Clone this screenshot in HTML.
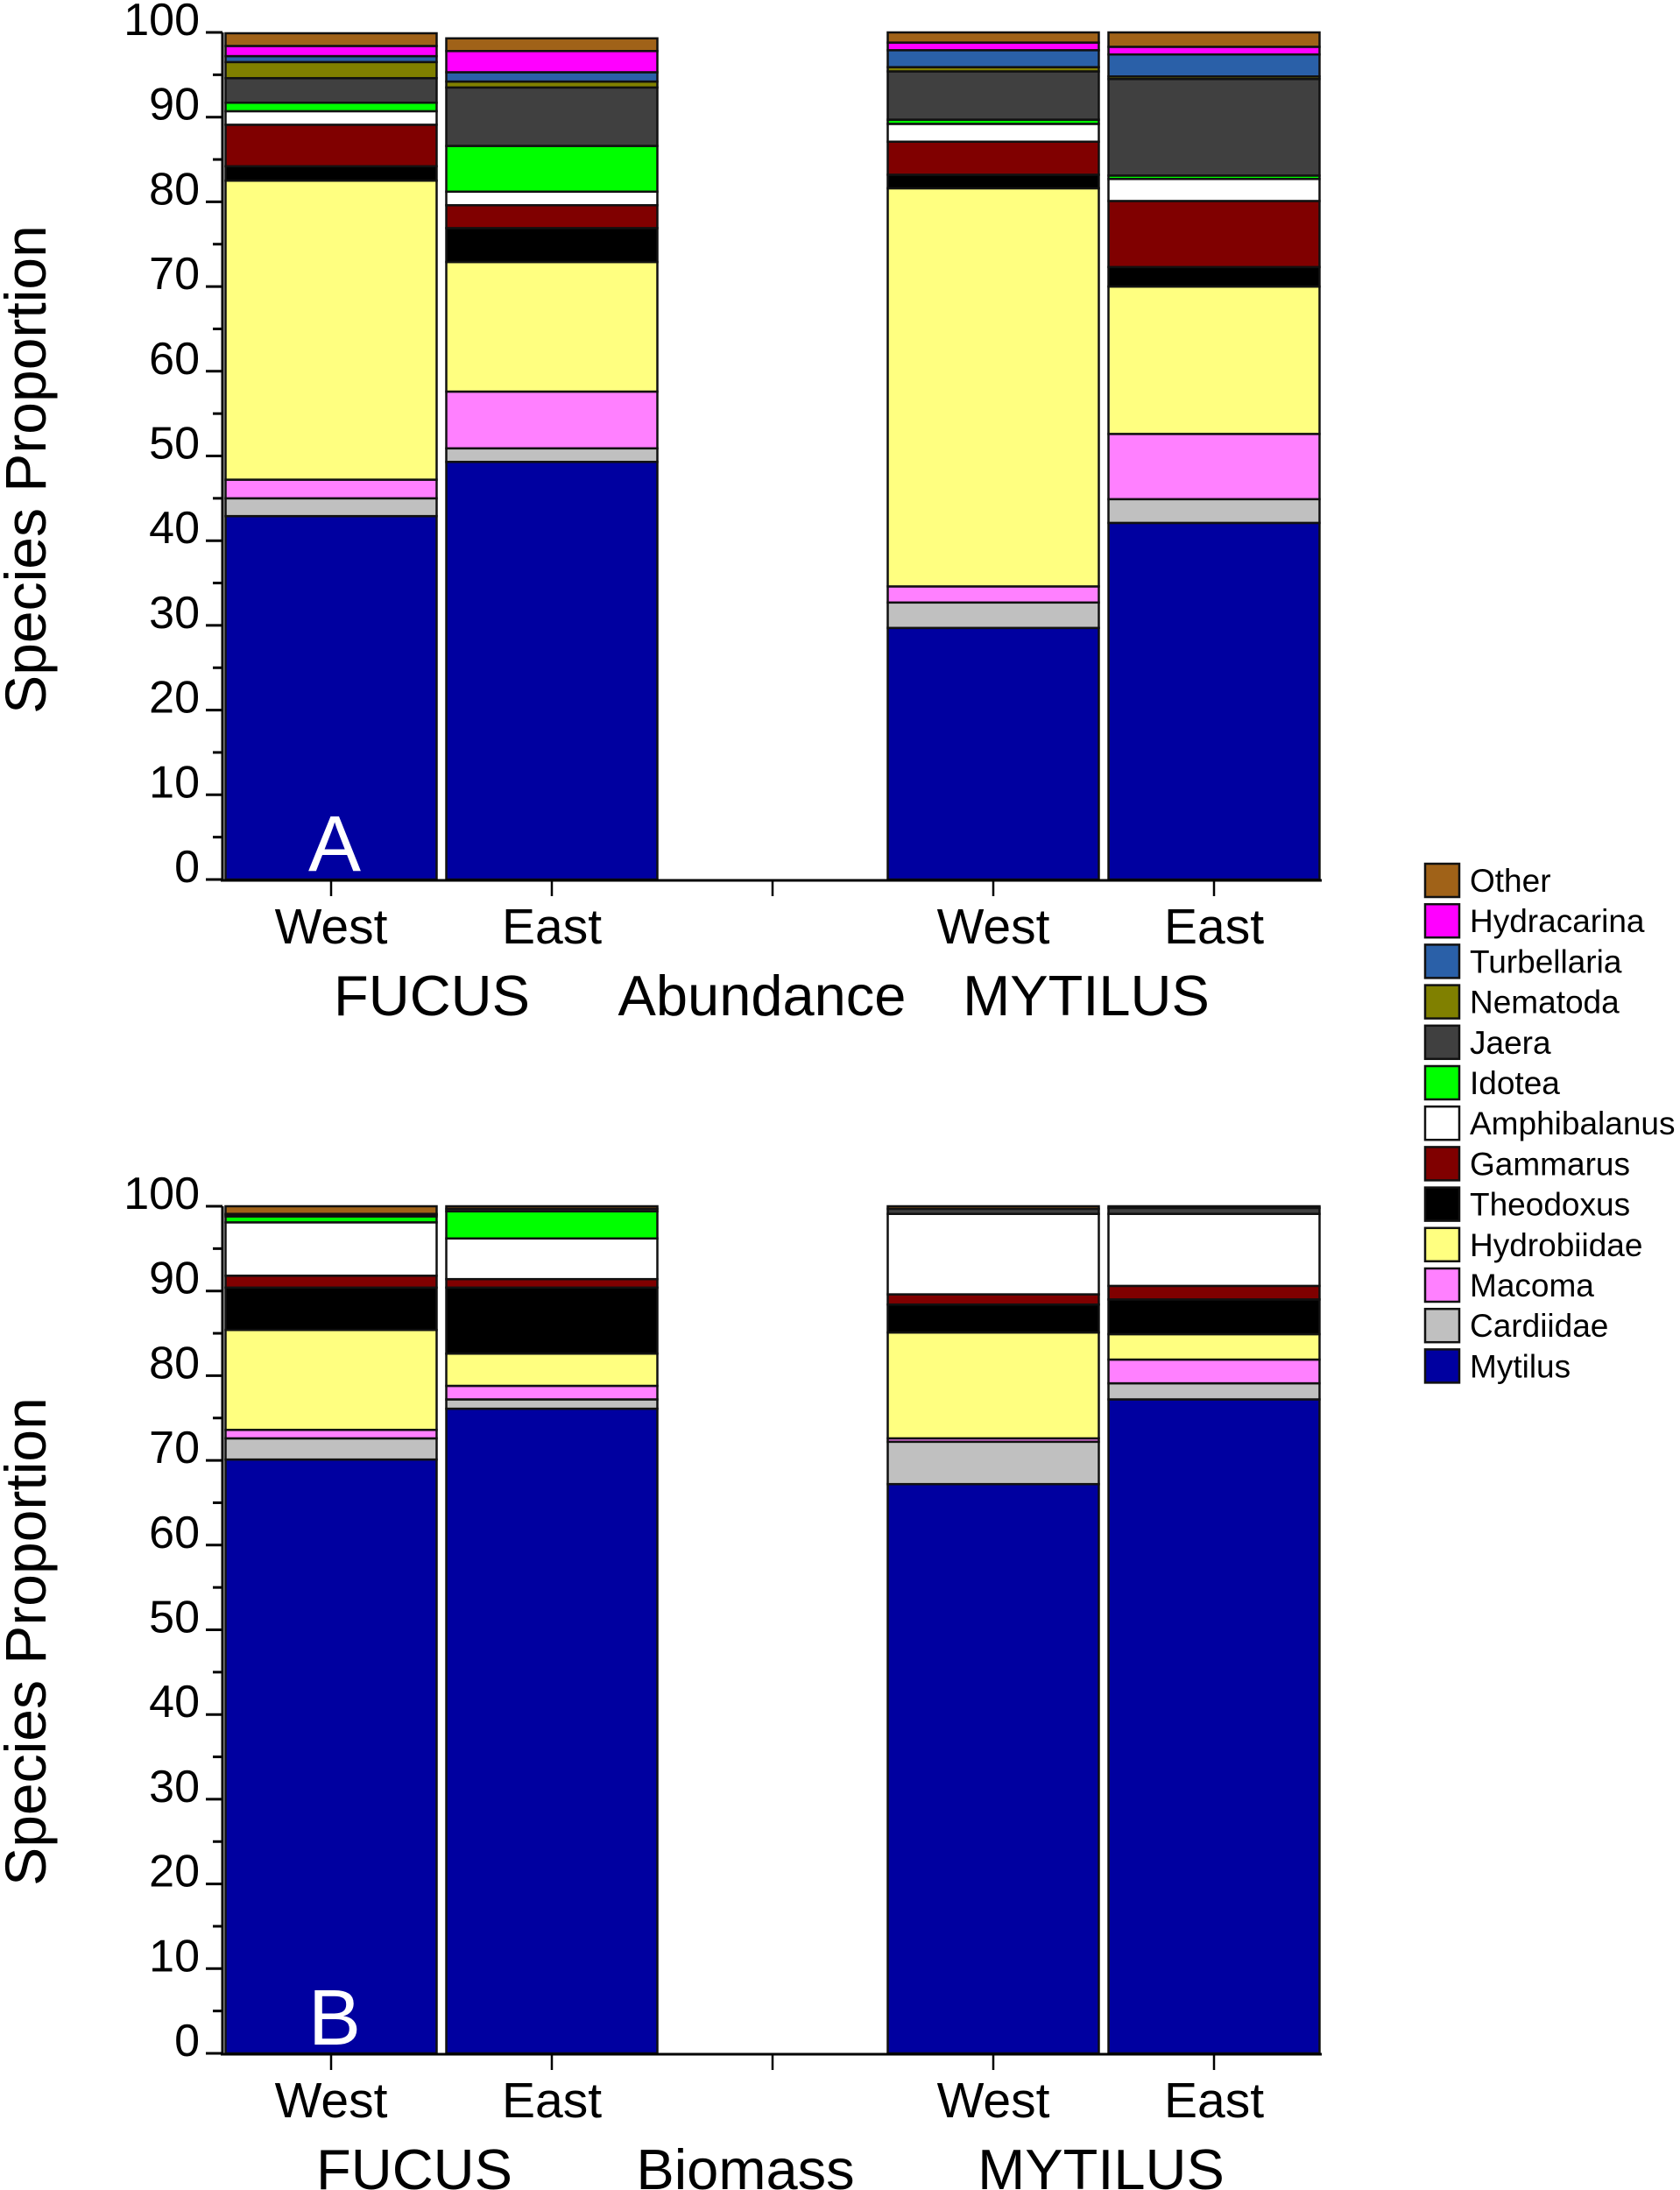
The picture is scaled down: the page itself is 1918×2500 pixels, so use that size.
<!DOCTYPE html>
<html><head><meta charset="utf-8">
<style>
html,body{margin:0;padding:0;background:#fff;}
svg{display:block;font-family:"Liberation Sans",Arial,sans-serif;}
</style></head>
<body>
<svg id="chart" width="1918" height="2500" viewBox="0 0 1918 2500" xmlns="http://www.w3.org/2000/svg"></svg>
<script>
const categories = ["FUCUS West","FUCUS East","MYTILUS West","MYTILUS East"];
const catSlots = [0,1,3,4];
const species = ["Mytilus","Cardiidae","Macoma","Hydrobiidae","Theodoxus","Gammarus","Amphibalanus","Idotea","Jaera","Nematoda","Turbellaria","Hydracarina","Other"];
const colors = ["#0000a0","#c0c0c0","#ff80ff","#ffff80","#000000","#800000","#ffffff","#00ff00","#404040","#808000","#2a60a8","#ff00ff","#a06218"];
const yTicks = [0,10,20,30,40,50,60,70,80,90,100];

// Abundance (panel A), values per category
const abMytilus = [42.9,49.3,29.7,42.1];
const abCardiidae = [2.1,1.6,3.0,2.8];
const abMacoma = [2.2,6.7,1.9,7.7];
const abHydrobiidae = [35.3,15.3,47.0,17.4];
const abTheodoxus = [1.7,4.0,1.6,2.3];
const abGammarus = [4.9,2.7,3.9,7.8];
const abAmphibalanus = [1.6,1.6,2.1,2.6];
const abIdotea = [1.0,5.4,0.5,0.4];
const abJaera = [2.9,6.9,5.7,11.4];
const abNematoda = [1.9,0.7,0.5,0.3];
const abTurbellaria = [0.7,1.1,2.0,2.6];
const abHydracarina = [1.2,2.5,0.9,0.9];
const abOther = [1.5,1.5,1.2,1.7];

// Biomass (panel B)
const bmMytilus = [70.1,76.1,67.2,77.2];
const bmCardiidae = [2.5,1.1,5.0,1.9];
const bmMacoma = [1.0,1.6,0.4,2.8];
const bmHydrobiidae = [11.8,3.8,12.5,3.0];
const bmTheodoxus = [5.0,7.8,3.3,4.1];
const bmGammarus = [1.4,1.0,1.2,1.6];
const bmAmphibalanus = [6.3,4.8,9.5,8.5];
const bmIdotea = [0.7,3.2,0,0];
const bmJaera = [0.2,0.3,0.6,0.7];
const bmNematoda = [0,0,0,0];
const bmTurbellaria = [0,0,0,0];
const bmHydracarina = [0.1,0,0,0];
const bmOther = [0.9,0.3,0.3,0.2];

const abSeries = [abMytilus,abCardiidae,abMacoma,abHydrobiidae,abTheodoxus,abGammarus,abAmphibalanus,abIdotea,abJaera,abNematoda,abTurbellaria,abHydracarina,abOther];
const bmSeries = [bmMytilus,bmCardiidae,bmMacoma,bmHydrobiidae,bmTheodoxus,bmGammarus,bmAmphibalanus,bmIdotea,bmJaera,bmNematoda,bmTurbellaria,bmHydracarina,bmOther];

const NS = "http://www.w3.org/2000/svg";
const svg = document.getElementById("chart");
function mk(tag, attrs, parent){
  const e = document.createElementNS(NS, tag);
  for (const k in attrs) e.setAttribute(k, attrs[k]);
  (parent||svg).appendChild(e);
  return e;
}
const xScale = i => 378 + 252*i;
const barW = 241;

function panel(cfg){
  const g = mk("g", {});
  
  
  const y = v => cfg.y0 - (cfg.y0 - cfg.y100) * v / 100;
  catSlots.forEach((slot, ci) => {
    let cum = 0;
    const bg = mk("g", {}, g);
    
    
    cfg.series.forEach((arr, si) => {
      const v = arr[ci];
      if (v <= 0) return;
      const yt = y(cum + v), yb = y(cum);
      const r = mk("rect", {x: xScale(slot) - barW/2, y: yt, width: barW, height: yb - yt, fill: colors[si], stroke: "#111", "stroke-width": 2.5}, bg);
      
      
      cum += v;
    });
  });
  const ax = mk("line", {x1: 254, y1: y(100), x2: 254, y2: cfg.y0 + 1, stroke: "#000", "stroke-width": 3}, g);
  
  
  for (let v = 0; v <= 100; v += 5) {
    const major = v % 10 === 0;
    mk("line", {x1: major ? 235 : 243, y1: y(v), x2: 254, y2: y(v), stroke: "#000", "stroke-width": 3}, g);
  }
  yTicks.forEach(v => {
    const t = mk("text", {x: 228, y: y(v) + 3, "text-anchor": "end", "font-size": 52}, g);
    t.textContent = v;
    
    
  });
  const xa = mk("line", {x1: 252, y1: cfg.y0 + 1, x2: 1509, y2: cfg.y0 + 1, stroke: "#000", "stroke-width": 3}, g);
  
  
  for (let i = 0; i <= 4; i++) mk("line", {x1: xScale(i), y1: cfg.y0 + 1, x2: xScale(i), y2: cfg.y0 + 19, stroke: "#000", "stroke-width": 2.5}, g);
  const labs = ["West","East","West","East"];
  catSlots.forEach((slot, ci) => {
    const t = mk("text", {x: xScale(slot), y: cfg.y0 + 73, "text-anchor": "middle", "font-size": 57}, g);
    t.textContent = labs[ci];
    
    
  });
  const groups = [["FUCUS", cfg.fx], [cfg.title, cfg.tx], ["MYTILUS", cfg.mx]];
  groups.forEach(([s, x]) => {
    const t = mk("text", {x: x, y: cfg.y0 + 155, "text-anchor": "middle", "font-size": 65}, g);
    t.textContent = s;
    
    
  });
  const L = mk("text", {x: 382, y: cfg.y0 - 10, "text-anchor": "middle", "font-size": 90, fill: "#fff"}, g);
  L.textContent = cfg.letter;
  
  
  const yt = mk("text", {x: 0, y: 0, "text-anchor": "middle", "font-size": 66, transform: "translate(52," + cfg.ty + ") rotate(-90)"}, g);
  yt.textContent = "Species Proportion";
  
  
}
panel({name: "panel-a-abundance", series: abSeries, y0: 1004, y100: 37, title: "Abundance", letter: "A", fx: 493, tx: 870, mx: 1240, ty: 536});
panel({name: "panel-b-biomass", series: bmSeries, y0: 2344, y100: 1377, title: "Biomass", letter: "B", fx: 473, tx: 851, mx: 1257, ty: 1874});

const lg = mk("g", {});


const order = species.slice().reverse();
order.forEach((s, i) => {
  const si = species.indexOf(s);
  const yy = 986 + 46.2*i;
  const e = mk("g", {}, lg);
  
  
  mk("rect", {x: 1627, y: yy, width: 39, height: 38, fill: colors[si], stroke: "#111", "stroke-width": 2.5}, e);
  const t = mk("text", {x: 1678, y: yy + 32, "font-size": 37}, e);
  t.textContent = s;
});
</script>
</body></html>
